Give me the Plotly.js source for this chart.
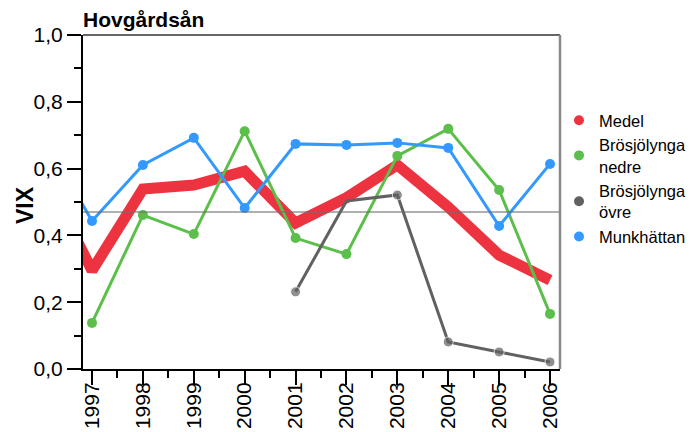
<!DOCTYPE html>
<html>
<head>
<meta charset="utf-8">
<script src="https://cdn.plot.ly/plotly-3.0.1.min.js"></script>
<style>html,body{margin:0;padding:0;background:#fff;}#chart{width:691px;height:432px;}</style>
</head>
<body>
<div id="chart"></div>
<script>
// Data
const yearsMedel = [1996, 1997, 1998, 1999, 2000, 2001, 2002, 2003, 2004, 2005, 2006];
const medel = [0.60, 0.295, 0.539, 0.551, 0.592, 0.437, 0.513, 0.611, 0.485, 0.341, 0.266];

const years = [1997, 1998, 1999, 2000, 2001, 2002, 2003, 2004, 2005, 2006];
const nedre = [0.138, 0.461, 0.404, 0.712, 0.392, 0.344, 0.638, 0.719, 0.536, 0.165];

const yearsOvre = [2001, 2002, 2003, 2004, 2005, 2006];
const ovre = [0.231, 0.503, 0.521, 0.081, 0.051, 0.021];

const yearsMunk = [1996, 1997, 1998, 1999, 2000, 2001, 2002, 2003, 2004, 2005, 2006];
const munk = [0.71, 0.443, 0.611, 0.692, 0.482, 0.674, 0.671, 0.677, 0.662, 0.428, 0.614];

const refLevel = 0.47;
const seriesNames = ['Medel', 'Brösjölynga<br>nedre', 'Brösjölynga<br>övre', 'Munkhättan'];
const xTickYears = [1997, 1998, 1999, 2000, 2001, 2002, 2003, 2004, 2005, 2006];

const cRed = '#EE3340', cGreen = '#5CBF4B', cGray = '#616161', cBlue = '#3399FF';
const FONT = 'Liberation Sans, Arial, sans-serif';

const traces = [
  {x: yearsMedel, y: medel, mode: 'lines', line: {color: cRed, width: 11}, showlegend: false, hoverinfo: 'skip'},
  {x: years, y: nedre, mode: 'lines+markers', line: {color: cGreen, width: 3}, marker: {color: cGreen, size: 10}, showlegend: false},
  {x: yearsOvre, y: ovre, mode: 'lines+markers', line: {color: cGray, width: 3}, marker: {color: cGray, size: [10, 0, 10, 10, 10, 10]}, showlegend: false},
  {x: yearsMunk, y: munk, mode: 'lines+markers', line: {color: cBlue, width: 3}, marker: {color: cBlue, size: 10}, showlegend: false}
];
const colors = [cRed, cGreen, cGray, cBlue];
seriesNames.forEach((n, i) => {
  traces.push({x: [null], y: [null], mode: 'markers', name: n, marker: {color: colors[i], size: 10}, showlegend: true});
});

const layout = {
  width: 691, height: 432,
  margin: {l: 83, r: 131, t: 35, b: 63, pad: 0, autoexpand: false},
  paper_bgcolor: '#fff', plot_bgcolor: '#fff',
  separators: ', ',
  font: {family: FONT, color: '#000'},
  title: {text: '<b>Hovgårdsån</b>', x: 0, xref: 'paper', xanchor: 'left', y: 1 - 20/432, yanchor: 'middle', font: {size: 21, family: FONT, color: '#000'}},
  xaxis: {
    range: [1996.823, 2006.196], tickmode: 'array', tickvals: xTickYears, ticktext: xTickYears.map(String),
    tickangle: -90, ticks: 'outside', ticklen: 14, tickwidth: 2, tickcolor: '#000',
    ticklabelstandoff: -11,
    minor: {tickmode: 'linear', tick0: 1996.5, dtick: 1, ticks: 'outside', ticklen: 7, tickwidth: 2, tickcolor: '#000', showgrid: false},
    showline: true, linecolor: '#000', linewidth: 2, showgrid: false, zeroline: false,
    tickfont: {size: 21, family: FONT, color: '#000'}
  },
  yaxis: {
    range: [0, 1], tickmode: 'linear', tick0: 0, dtick: 0.2, tickformat: '.1f',
    ticks: 'outside', ticklen: 14, tickwidth: 2, tickcolor: '#000',
    minor: {tickmode: 'linear', tick0: 0, dtick: 0.1, ticks: 'outside', ticklen: 7, tickwidth: 2, tickcolor: '#000', showgrid: false},
    showline: true, linecolor: '#000', linewidth: 2, showgrid: false, zeroline: false,
    tickfont: {size: 21, family: FONT, color: '#000'}
  },
  annotations: [
    {text: '<b>VIX</b>', xref: 'paper', yref: 'paper', x: (25 - 83) / 477, y: 1 - (205 - 35) / 334, xanchor: 'center', yanchor: 'middle', textangle: -90, showarrow: false, font: {size: 23, family: FONT, color: '#000'}}
  ],
  shapes: [
    {type: 'line', xref: 'paper', yref: 'y', x0: 0, x1: 1, y0: refLevel, y1: refLevel, line: {color: 'rgba(110,110,110,0.55)', width: 2}, layer: 'above'},
    {type: 'line', xref: 'paper', yref: 'paper', x0: 0, x1: 1, y0: 1, y1: 1, line: {color: '#333', width: 1.5}, layer: 'above'},
    {type: 'line', xref: 'paper', yref: 'paper', x0: 1, x1: 1, y0: 0, y1: 1, line: {color: '#888', width: 2.5}, layer: 'above'}
  ],
  legend: {xref: 'container', yref: 'container', x: 559 / 691, xanchor: 'left', y: 1 - 103 / 432, yanchor: 'top', font: {size: 16.5, family: FONT, color: '#000'}, bgcolor: 'rgba(0,0,0,0)', borderwidth: 0, itemwidth: 30, tracegroupgap: 0},
  showlegend: true
};

Plotly.newPlot('chart', traces, layout, {displayModeBar: false, staticPlot: true});
</script>
</body>
</html>
